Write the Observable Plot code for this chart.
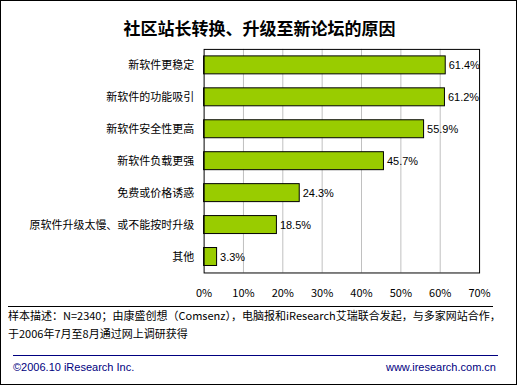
<!DOCTYPE html>
<html>
<head>
<meta charset="utf-8">
<script src="https://cdn.jsdelivr.net/npm/d3@7"></script>
<script src="https://cdn.jsdelivr.net/npm/@observablehq/plot@0.6"></script>
<style>
  html, body { margin: 0; padding: 0; background: #fff; }
  #wrap { position: relative; width: 517px; height: 385px; box-sizing: border-box; border: 1px solid #000; overflow: hidden; font-family: "Noto Sans CJK SC", "Liberation Sans", sans-serif; }
  #title { position: absolute; left: 0; width: 517px; top: 16px; text-align: center; font-size: 17px; font-weight: bold; color: #000; line-height: 22px; }
  #chart { position: absolute; left: -1px; top: -1px; }
  .line1 { position: absolute; left: 7px; top: 305px; width: 485px; height: 1px; background: #000; }
  .note { position: absolute; left: 7px; font-size: 11px; color: #000; white-space: nowrap; line-height: 14px; }
  .line2 { position: absolute; left: 12px; top: 354px; width: 485px; height: 1px; background: #000080; }
  .foot { position: absolute; top: 359px; font-size: 11px; color: #000080; font-family: "Liberation Sans", sans-serif; line-height: 14px; }
</style>
</head>
<body>
<div id="wrap">
  <div id="title">社区站长转换、升级至新论坛的原因</div>
  <div id="chart"></div>
  <div class="line1"></div>
  <div class="note" style="top:307px">样本描述：N=2340；由康盛创想（Comsenz），电脑报和iResearch艾瑞联合发起，与多家网站合作，</div>
  <div class="note" style="top:325px">于2006年7月至8月通过网上调研获得</div>
  <div class="line2"></div>
  <div class="foot" style="left:12px">©2006.10 iResearch Inc.</div>
  <div class="foot" style="right:20px">www.iresearch.com.cn</div>
</div>
<script>
const categories = ["新软件更稳定", "新软件的功能吸引", "新软件安全性更高", "新软件负载更强", "免费或价格诱惑", "原软件升级太慢、或不能按时升级", "其他"];
const values = [61.4, 61.2, 55.9, 45.7, 24.3, 18.5, 3.3];
const xTicks = [0, 10, 20, 30, 40, 50, 60, 70];
const gridTicks = [10, 20, 30, 40, 50, 60];

const data = categories.map((c, i) => ({category: c, value: values[i]}));

const chart = Plot.plot({
  width: 517,
  height: 306,
  marginLeft: 204,
  marginRight: 37,
  marginTop: 49,
  marginBottom: 33,
  style: {fontFamily: "'Noto Sans CJK SC', 'Liberation Sans', sans-serif", fontSize: "11px", color: "#000", background: "transparent"},
  x: {domain: [0, 70], ticks: xTicks, tickFormat: d => d + "%", tickSize: 0, tickPadding: 16, label: null},
  y: {domain: categories, paddingInner: 0.44, paddingOuter: 0.19, tickSize: 0, tickPadding: 10, label: null},
  marks: [
    Plot.ruleX(gridTicks, {stroke: "#c0c0c0", strokeWidth: 1}),
    Plot.barX(data, {x: "value", y: "category", fill: "#99cc00", stroke: "#000", strokeWidth: 1}),
    Plot.text(data, {x: "value", y: "category", text: d => d.value.toFixed(1) + "%", textAnchor: "start", dx: 3, fontFamily: "'Liberation Sans', sans-serif", fontSize: 11, fill: "#000"}),
    Plot.frame({stroke: "#000", strokeWidth: 1})
  ]
});
document.getElementById("chart").appendChild(chart);
</script>
</body>
</html>
